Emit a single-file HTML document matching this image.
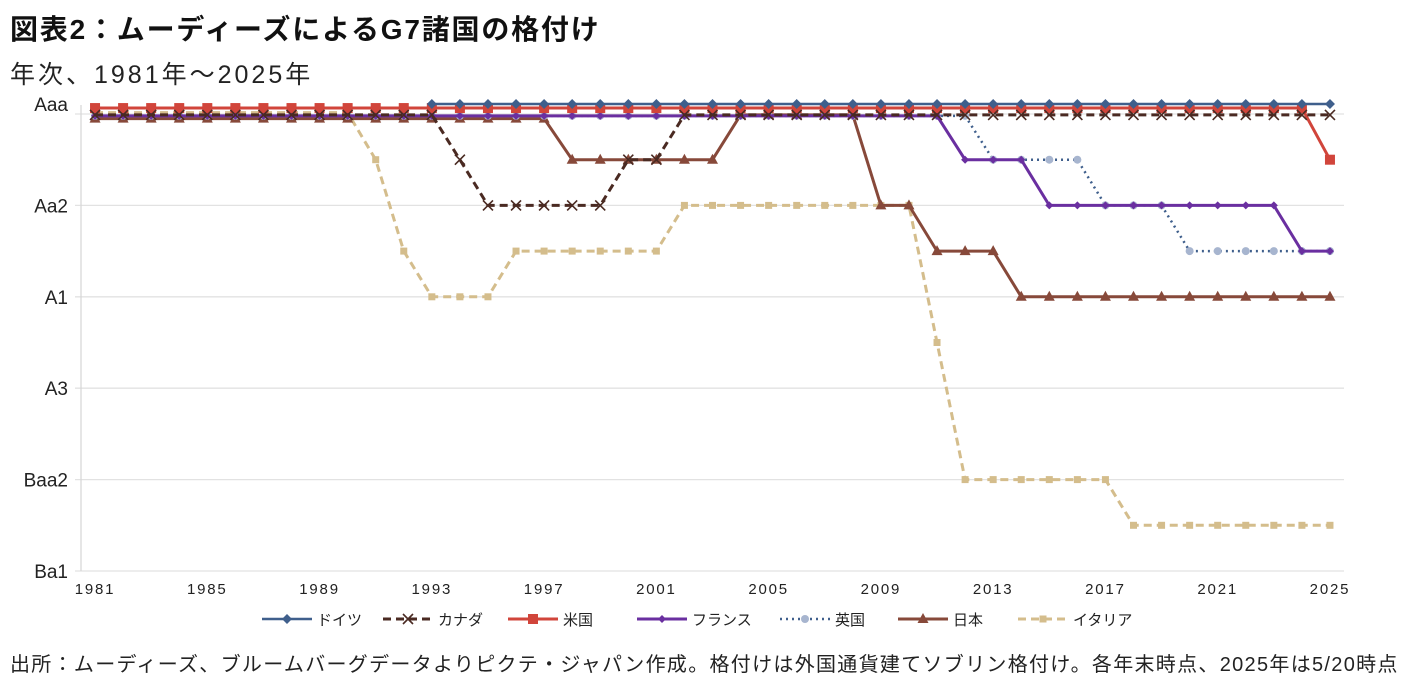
<!DOCTYPE html>
<html><head><meta charset="utf-8">
<style>
body{margin:0;background:#fff;width:1411px;height:682px;overflow:hidden;font-family:"Liberation Sans","Noto Sans CJK JP",sans-serif;}
#title{position:absolute;left:10px;top:8px;font-size:28px;font-weight:bold;color:#111;letter-spacing:1.8px;white-space:nowrap;}
#sub{position:absolute;left:10px;top:55px;font-size:25px;color:#222;letter-spacing:3px;white-space:nowrap;}
#src{position:absolute;left:10px;top:648px;font-size:20px;color:#222;white-space:nowrap;letter-spacing:1.3px;}
svg{position:absolute;left:0;top:0;}
</style></head><body>
<div id="title">図表2：ムーディーズによるG7諸国の格付け</div>
<div id="sub">年次、1981年～2025年</div>
<svg id="chart" width="1411" height="682"></svg>
<div id="src">出所：ムーディーズ、ブルームバーグデータよりピクテ・ジャパン作成。格付けは外国通貨建てソブリン格付け。各年末時点、2025年は5/20時点</div>
<script>
// notch scale: 0 = Aaa, 2 = Aa2, 4 = A1, 6 = A3, 8 = Baa2, 10 = Ba1 (small offsets at Aaa separate overlapping lines)
const years = [];
for (let y = 1981; y <= 2025; y++) years.push(y);
const yLabels = ["Aaa","Aa2","A1","A3","Baa2","Ba1"];
const xTicks = [1981,1985,1989,1993,1997,2001,2005,2009,2013,2017,2021,2025];
const germany = [null,null,null,null,null,null,null,null,null,null,null,null,-0.22,-0.22,-0.22,-0.22,-0.22,-0.22,-0.22,-0.22,-0.22,-0.22,-0.22,-0.22,-0.22,-0.22,-0.22,-0.22,-0.22,-0.22,-0.22,-0.22,-0.22,-0.22,-0.22,-0.22,-0.22,-0.22,-0.22,-0.22,-0.22,-0.22,-0.22,-0.22,-0.22];
const canada = [0.02,0.02,0.02,0.02,0.02,0.02,0.02,0.02,0.02,0.02,0.02,0.02,0.02,1,2,2,2,2,2,1,1,0.02,0.02,0.02,0.02,0.02,0.02,0.02,0.02,0.02,0.02,0.02,0.02,0.02,0.02,0.02,0.02,0.02,0.02,0.02,0.02,0.02,0.02,0.02,0.02];
const usa = [-0.13,-0.13,-0.13,-0.13,-0.13,-0.13,-0.13,-0.13,-0.13,-0.13,-0.13,-0.13,-0.13,-0.13,-0.13,-0.13,-0.13,-0.13,-0.13,-0.13,-0.13,-0.13,-0.13,-0.13,-0.13,-0.13,-0.13,-0.13,-0.13,-0.13,-0.13,-0.13,-0.13,-0.13,-0.13,-0.13,-0.13,-0.13,-0.13,-0.13,-0.13,-0.13,-0.13,-0.13,1];
const france = [0.04,0.04,0.04,0.04,0.04,0.04,0.04,0.04,0.04,0.04,0.04,0.04,0.04,0.04,0.04,0.04,0.04,0.04,0.04,0.04,0.04,0.04,0.04,0.04,0.04,0.04,0.04,0.04,0.04,0.04,0.04,1,1,1,2,2,2,2,2,2,2,2,2,3,3];
const uk = [0.04,0.04,0.04,0.04,0.04,0.04,0.04,0.04,0.04,0.04,0.04,0.04,0.04,0.04,0.04,0.04,0.04,0.04,0.04,0.04,0.04,0.04,0.04,0.04,0.04,0.04,0.04,0.04,0.04,0.04,0.04,0.04,1,1,1,1,2,2,2,3,3,3,3,3,3];
const japan = [0.1,0.1,0.1,0.1,0.1,0.1,0.1,0.1,0.1,0.1,0.1,0.1,0.1,0.1,0.1,0.1,0.1,1,1,1,1,1,1,0.02,0.02,0.02,0.02,0.02,2,2,3,3,3,4,4,4,4,4,4,4,4,4,4,4,4];
const italy = [-0.03,-0.03,-0.03,-0.03,-0.03,-0.03,-0.03,-0.03,-0.03,-0.03,1,3,4,4,4,3,3,3,3,3,3,2,2,2,2,2,2,2,2,2,5,8,8,8,8,8,8,9,9,9,9,9,9,9,9];

const NS = "http://www.w3.org/2000/svg";
const svg = document.getElementById("chart");
const axL = 81, axR = 1344, yTop = 114, notch = 45.7;
const step = (axR - axL) / years.length;
const xs = y => axL + step / 2 + (y - years[0]) * step;
const ys = v => yTop + v * notch;
function mk(tag, attrs) { const e = document.createElementNS(NS, tag); for (const k in attrs) e.setAttribute(k, attrs[k]); svg.appendChild(e); return e; }

yLabels.forEach((lab, i) => {
  const g = mk("line", {x1: axL - 6, x2: axR, y1: ys(i * 2), y2: ys(i * 2), stroke: "#e2e2e2", "stroke-width": 1.3});
  
  
  const t = mk("text", {x: 68, y: ys(i * 2) + (i === 0 ? -3 : 7), "text-anchor": "end", "font-size": 19, fill: "#222"});
  t.textContent = lab;
  
  
});
const ax = mk("line", {x1: axL, x2: axL, y1: 105, y2: ys(10), stroke: "#d8d8d8", "stroke-width": 1.3});


xTicks.forEach(y => {
  const t = mk("text", {x: xs(y), y: 594, "text-anchor": "middle", "font-size": 15, fill: "#222", "letter-spacing": "1.8"});
  t.textContent = y;
  
  
});

function marker(kind, x, y, color, g) {
  let e;
  if (kind === "diamond") e = document.createElementNS(NS, "polygon"), e.setAttribute("points", `${x},${y-5} ${x+5},${y} ${x},${y+5} ${x-5},${y}`), e.setAttribute("fill", color);
  else if (kind === "square") e = document.createElementNS(NS, "rect"), e.setAttribute("x", x-5), e.setAttribute("y", y-5), e.setAttribute("width", 10), e.setAttribute("height", 10), e.setAttribute("fill", color);
  else if (kind === "smallsq") e = document.createElementNS(NS, "rect"), e.setAttribute("x", x-3.5), e.setAttribute("y", y-3.5), e.setAttribute("width", 7), e.setAttribute("height", 7), e.setAttribute("fill", color);
  else if (kind === "tri") e = document.createElementNS(NS, "polygon"), e.setAttribute("points", `${x},${y-6} ${x+5.5},${y+4} ${x-5.5},${y+4}`), e.setAttribute("fill", color);
  else if (kind === "circle") e = document.createElementNS(NS, "circle"), e.setAttribute("cx", x), e.setAttribute("cy", y), e.setAttribute("r", 4), e.setAttribute("fill", color);
  else if (kind === "smalldia") e = document.createElementNS(NS, "polygon"), e.setAttribute("points", `${x},${y-4} ${x+4},${y} ${x},${y+4} ${x-4},${y}`), e.setAttribute("fill", color);
  else { e = document.createElementNS(NS, "path"); e.setAttribute("d", `M${x-5},${y-5}L${x+5},${y+5}M${x+5},${y-5}L${x-5},${y+5}`); e.setAttribute("stroke", color); e.setAttribute("stroke-width", 1.6); e.setAttribute("fill", "none"); }
  g.appendChild(e);
  return e;
}
const series = [
  {name: "イタリア", key: "italy", data: italy, color: "#d4bd8c", dash: "8,5", w: 3, m: "smallsq", mc: "#d4bd8c"},
  {name: "日本", key: "japan", data: japan, color: "#87493a", dash: "", w: 3, m: "tri", mc: "#87493a"},
  {name: "英国", key: "uk", data: uk, color: "#3f5f8c", dash: "2,4", w: 2.5, m: "circle", mc: "#a7b5cf"},
  {name: "フランス", key: "france", data: france, color: "#6a2fa0", dash: "", w: 3, m: "smalldia", mc: "#6a2fa0"},
  {name: "米国", key: "us", data: usa, color: "#d1453b", dash: "", w: 3, m: "square", mc: "#d1453b"},
  {name: "カナダ", key: "canada", data: canada, color: "#4a2a22", dash: "8,5", w: 3, m: "x", mc: "#4a2a22"},
  {name: "ドイツ", key: "germany", data: germany, color: "#3f5f8c", dash: "", w: 2.5, m: "diamond", mc: "#3f5f8c"},
];
series.forEach(s => {
  const g = document.createElementNS(NS, "g"); svg.appendChild(g);
  
  
  let d = "", pen = false;
  s.data.forEach((v, i) => {
    if (v === null) { pen = false; return; }
    d += (pen ? "L" : "M") + xs(years[i]) + "," + ys(v); pen = true;
  });
  const p = document.createElementNS(NS, "path");
  p.setAttribute("d", d); p.setAttribute("fill", "none"); p.setAttribute("stroke", s.color);
  p.setAttribute("stroke-width", s.w); if (s.dash) p.setAttribute("stroke-dasharray", s.dash);
  p.setAttribute("stroke-linejoin", "round");
  g.appendChild(p);
  s.data.forEach((v, i) => { if (v !== null) marker(s.m, xs(years[i]), ys(v), s.mc, g); });
});

const legendOrder = ["germany","canada","us","france","uk","japan","italy"];
const legX = [262, 383, 508, 637, 780, 898, 1018];
legendOrder.forEach((k, i) => {
  const s = series.find(q => q.key === k);
  const g = document.createElementNS(NS, "g"); svg.appendChild(g);
  
  
  const x = legX[i], y = 619;
  const l = document.createElementNS(NS, "line");
  l.setAttribute("x1", x); l.setAttribute("x2", x + 50); l.setAttribute("y1", y); l.setAttribute("y2", y);
  l.setAttribute("stroke", s.color); l.setAttribute("stroke-width", s.w); if (s.dash) l.setAttribute("stroke-dasharray", s.dash);
  g.appendChild(l);
  marker(s.m, x + 25, y, s.mc, g);
  const t = document.createElementNS(NS, "text");
  t.setAttribute("x", x + 55); t.setAttribute("y", y + 6); t.setAttribute("font-size", 15); t.setAttribute("fill", "#222");
  t.textContent = s.name; g.appendChild(t);
});
</script>
</body></html>
